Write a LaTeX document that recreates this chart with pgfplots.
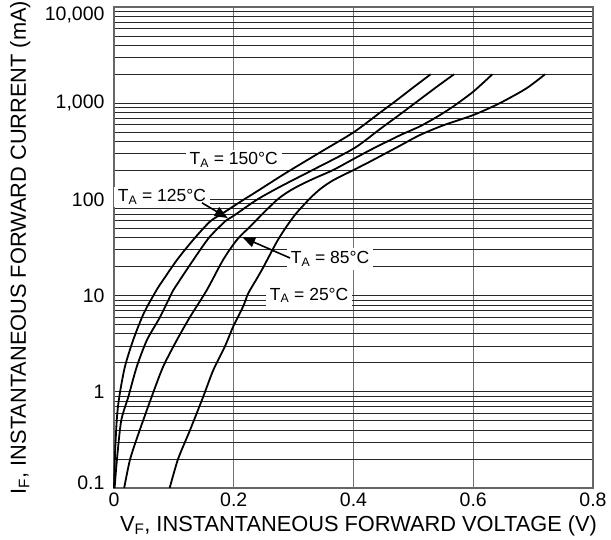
\documentclass[border=0pt]{standalone}
\usepackage{pgfplots}
\pgfplotsset{compat=1.18}
\usepackage{fontspec}
\setmainfont{Liberation Sans}
\usetikzlibrary{arrows.meta}

\begin{document}
\begin{tikzpicture}
\begin{axis}[
    scale only axis,
    width=479pt, height=481pt,
    xmin=0, xmax=0.8,
    ymode=log, ymin=0.1, ymax=10000,
    xtick={0,0.2,0.4,0.6,0.8},
    xticklabels={0,0.2,0.4,0.6,0.8},
    ytick={0.1,1,10,100,1000,10000},
    yticklabels={\raisebox{5pt}[\height][\depth]{0.1},1,10,100,{1,000},\raisebox{-8pt}[\height][\depth]{10,000}},
    xmajorgrids, ymajorgrids, yminorgrids,
    major x grid style={black!55, line width=1.1pt},
    major y grid style={black!85, line width=0.8pt},
    minor y grid style={black!85, line width=0.8pt},
    axis line style={black!60, line width=1.1pt},
    tick style={draw=none},
    ticklabel style={font=\fontsize{19.5}{21}\selectfont},
    xticklabel style={yshift=-1pt},
    yticklabel style={xshift=-6pt},
    xlabel={V\textsubscript{F}, INSTANTANEOUS FORWARD VOLTAGE (V)},
    ylabel={I\textsubscript{F}, INSTANTANEOUS FORWARD CURRENT (mA)},
    label style={font=\fontsize{21.8}{23}\selectfont},
    xlabel style={at={(rel axis cs:0.5,0)}, anchor=base, yshift=-43pt, xshift=5pt},
    ylabel style={at={([xshift=-88pt]rel axis cs:0,0.5)}, anchor=base},
    clip=false,
]
\coordinate (ll) at (rel axis cs:0,0);

% labels with white boxes over the grid
\node[fill=white, inner xsep=4pt, inner ysep=3pt, font=\fontsize{17.5}{19}\selectfont] at (axis cs:0.200,257) {T\textsubscript{A} = 150°C};
\node[fill=white, inner xsep=4pt, inner ysep=3pt, font=\fontsize{17.5}{19}\selectfont] at (axis cs:0.080,106) {T\textsubscript{A} = 125°C};
\node[fill=white, inner xsep=4pt, inner ysep=4pt, font=\fontsize{17.5}{19}\selectfont] at (axis cs:0.361,24) {T\textsubscript{A} = 85°C};
\node[fill=white, inner xsep=4pt, inner ysep=3pt, font=\fontsize{17.5}{19}\selectfont] at (axis cs:0.326,10.1) {T\textsubscript{A} = 25°C};

% 150 C
\addplot[black, line width=1.8pt, smooth, tension=0.45] coordinates {
(0.000,0.1) (0.002,0.25) (0.005,0.55) (0.009,0.9) (0.018,1.8) (0.032,3.45)
(0.050,6.6) (0.071,11.4) (0.082,14.5) (0.105,23.4) (0.132,37.8) (0.160,58.6)
(0.182,72) (0.215,98) (0.233,115) (0.277,172) (0.294,200) (0.333,280)
(0.355,338) (0.401,502) (0.444,795) (0.472,1072) (0.500,1462) (0.529,2000)
};
% 125 C
\addplot[black, line width=1.8pt, smooth, tension=0.45] coordinates {
(0.001,0.1) (0.005,0.2) (0.012,0.5) (0.024,0.89) (0.038,1.82) (0.055,3.45)
(0.077,6.0) (0.099,11.4) (0.110,14.5) (0.138,26.4) (0.160,40.9) (0.188,61)
(0.199,67) (0.238,98.6) (0.277,135) (0.333,204) (0.401,340)
(0.444,537) (0.477,760) (0.511,1096) (0.539,1480) (0.568,2000)
};
% 85 C
\addplot[black, line width=1.8pt, smooth, tension=0.45] coordinates {
(0.017,0.1) (0.027,0.2) (0.043,0.4) (0.063,0.89) (0.082,1.82) (0.105,3.45)
(0.127,6.0) (0.155,11.4) (0.182,23.4) (0.205,37.8) (0.227,52) (0.249,71.6)
(0.272,98.6) (0.290,119) (0.310,140) (0.335,166) (0.366,202) (0.400,263)
(0.430,331) (0.477,462) (0.511,575) (0.540,725) (0.566,920) (0.600,1318)
(0.632,2000)
};
% 25 C
\addplot[black, line width=1.8pt, smooth, tension=0.45] coordinates {
(0.093,0.1) (0.107,0.2) (0.127,0.4) (0.149,0.89) (0.166,1.69) (0.185,2.94)
(0.199,4.75) (0.216,7.8) (0.224,10.5) (0.238,14.8) (0.249,19.5) (0.260,26.3)
(0.272,36.3) (0.283,46.8) (0.294,58.9) (0.305,72.4) (0.327,102) (0.345,129)
(0.366,158) (0.400,202) (0.422,237) (0.450,293) (0.477,360) (0.511,467)
(0.550,589) (0.600,753) (0.644,998) (0.689,1429) (0.720,2000)
};

% pointer arrows
\draw[black, line width=1.6pt, -{Triangle[length=13pt,width=10pt]}] (axis cs:0.147,92) -- (axis cs:0.190,64);
\draw[black, line width=1.6pt, -{Triangle[length=13pt,width=10pt]}] (axis cs:0.294,24.6) -- (axis cs:0.214,40.6);
\end{axis}
\pgfresetboundingbox
\path ([shift={(-114pt,-51pt)}]ll) rectangle ([shift={(497pt,488pt)}]ll);
\end{tikzpicture}
\end{document}
